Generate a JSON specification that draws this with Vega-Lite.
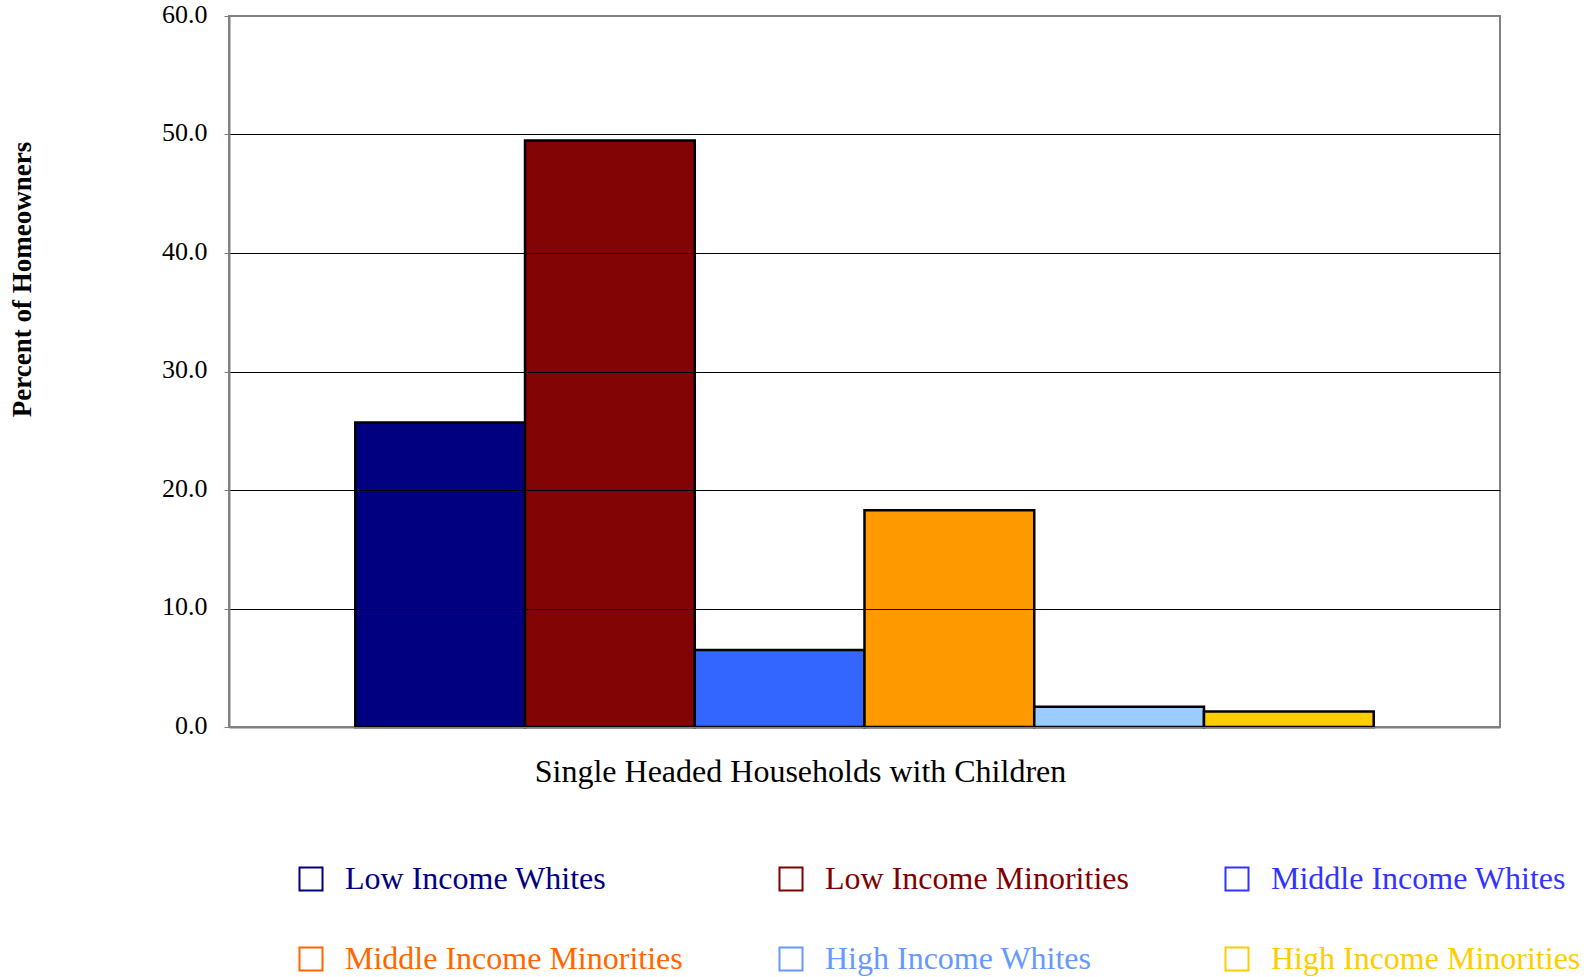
{
  "$schema": "https://vega.github.io/schema/vega-lite/v6.json",
  "width": 1271,
  "height": 711,
  "autosize": {"type": "none"},
  "padding": {"left": 229, "top": 16, "right": 89, "bottom": 250},
  "background": "white",
  "config": {
    "font": "Liberation Serif",
    "view": {"stroke": "#808080", "strokeWidth": 2}
  },
  "data": {
    "values": [
      {"household": "Single Headed Households with Children", "group": "Low Income Whites", "percent": 25.7},
      {"household": "Single Headed Households with Children", "group": "Low Income Minorities", "percent": 49.5},
      {"household": "Single Headed Households with Children", "group": "Middle Income Whites", "percent": 6.5},
      {"household": "Single Headed Households with Children", "group": "Middle Income Minorities", "percent": 18.3},
      {"household": "Single Headed Households with Children", "group": "High Income Whites", "percent": 1.7},
      {"household": "Single Headed Households with Children", "group": "High Income Minorities", "percent": 1.3}
    ]
  },
  "encoding": {
    "x": {
      "field": "household",
      "type": "nominal",
      "scale": {"paddingInner": 0, "paddingOuter": 0.124},
      "axis": {
        "title": null,
        "ticks": false,
        "labelAngle": 0,
        "labelFontSize": 32,
        "labelColor": "black",
        "labelPadding": 29,
        "labelOffset": -64,
        "labelLimit": 900,
        "domainColor": "#808080",
        "domainWidth": 2
      }
    },
    "xOffset": {
      "field": "group",
      "type": "nominal",
      "sort": ["Low Income Whites", "Low Income Minorities", "Middle Income Whites", "Middle Income Minorities", "High Income Whites", "High Income Minorities"],
      "scale": {"paddingInner": 0, "paddingOuter": 0}
    },
    "y": {
      "field": "percent",
      "type": "quantitative",
      "scale": {"domain": [0, 60], "nice": false},
      "axis": {
        "title": "Percent of Homeowners",
        "titleFontSize": 27,
        "titleFontWeight": "bold",
        "titleColor": "black",
        "titleAngle": -90,
        "titleX": -207,
        "titleY": 263,
        "titleAlign": "center",
        "titleBaseline": "middle",
        "values": [0, 10, 20, 30, 40, 50, 60],
        "format": ".1f",
        "labelFontSize": 26,
        "labelColor": "black",
        "labelPadding": 17,
        "labelOffset": -2,
        "tickSize": 5,
        "tickColor": "#808080",
        "domainColor": "#808080",
        "domainWidth": 2,
        "grid": true,
        "gridColor": {"condition": {"test": "datum.value === 0 || datum.value === 60", "value": "#808080"}, "value": "black"},
        "gridWidth": 1,
        "zindex": 1
      }
    }
  },
  "layer": [
    {
      "mark": {"type": "bar", "stroke": "black", "strokeWidth": 2.5},
      "encoding": {
        "fill": {
          "field": "group",
          "type": "nominal",
          "sort": ["Low Income Whites", "Low Income Minorities", "Middle Income Whites", "Middle Income Minorities", "High Income Whites", "High Income Minorities"],
          "scale": {
            "range": ["#000080", "#820404", "#3366FF", "#FF9900", "#99CCFF", "#FFCC00"]
          },
          "legend": null
        }
      }
    },
    {
      "mark": {"type": "point", "size": 0, "filled": false},
      "encoding": {
        "stroke": {
          "field": "group",
          "type": "nominal",
          "scale": {
            "domain": ["Low Income Whites", "Low Income Minorities", "Middle Income Whites", "Middle Income Minorities", "High Income Whites", "High Income Minorities"],
            "range": ["#000080", "#800000", "#3333FF", "#FF6600", "#6699FF", "#FFCC00"]
          },
          "legend": {
            "title": null,
            "orient": "none",
            "legendX": 66,
            "legendY": 847,
            "direction": "horizontal",
            "columns": 3,
            "gridAlign": "each",
            "columnPadding": 92,
            "rowPadding": 48,
            "padding": 0,
            "symbolType": "square",
            "symbolSize": 530,
            "symbolStrokeWidth": 2,
            "symbolOpacity": 1,
            "symbolFillColor": "transparent",
            "labelFontSize": 32,
            "labelLimit": 900,
            "labelOffset": 18,
            "labelColor": {"expr": "scale('stroke', datum.value)"}
          }
        }
      }
    }
  ]
}
